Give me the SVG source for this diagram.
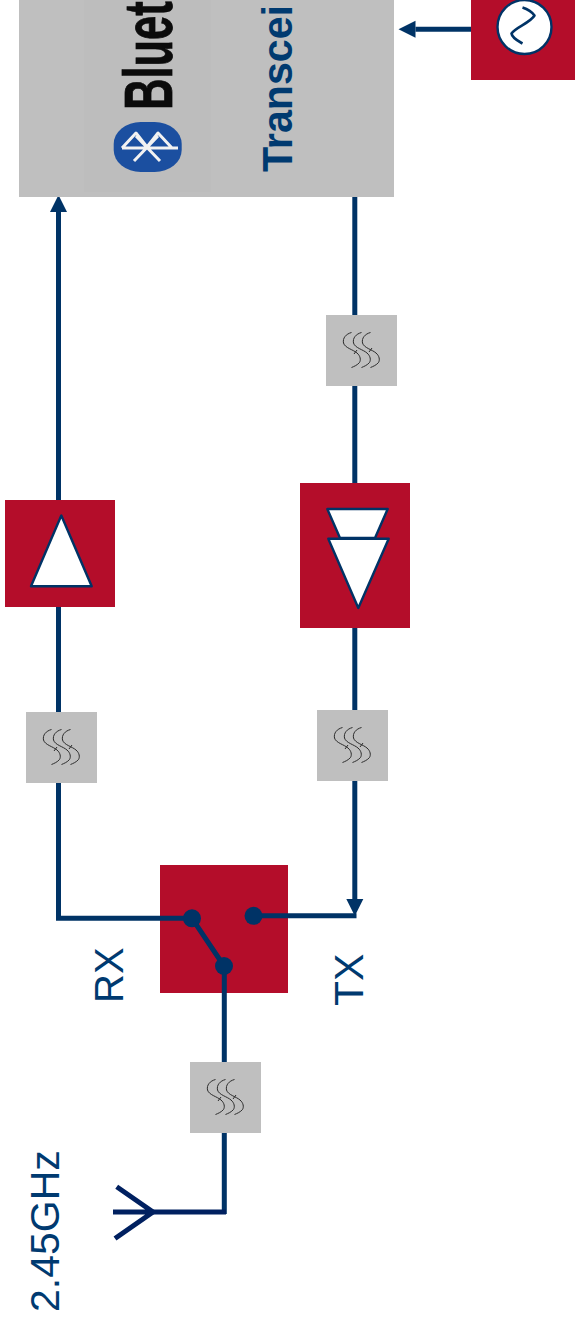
<svg xmlns="http://www.w3.org/2000/svg" width="575" height="1322" viewBox="0 0 575 1322">
<style>
.red{fill:#b40d2a}
.gray{fill:#bfbfbf}
.wire{fill:none;stroke:#003366;stroke-width:5}
.ant{fill:none;stroke:#002060;stroke-width:5}
.shape{fill:#fff;stroke:#003366;stroke-width:2.4;stroke-linejoin:round}
.dot{fill:#003366}
.wave{fill:none;stroke:#2b2b2b;stroke-width:1}
.lbl{font-family:"Liberation Sans",Arial,sans-serif;font-size:41px;fill:#003a70}
</style>
<defs>
<marker id="ah" markerUnits="userSpaceOnUse" markerWidth="18" markerHeight="18" refX="0" refY="9" orient="auto"><path d="M0 0.500L17 9L0 17.500Z" fill="#003366"/></marker>
<g id="filter">
<rect class="gray" width="71" height="71"/>
<g class="wave">
<path d="M25.500 17.500C20 19 16.500 23 17.500 28C19 33 27 34.500 31 38C34.500 41 35 45 33.500 47.500C31.500 50 28 51.500 25.500 52.500"/>
<path d="M35.500 17.500C30 19 26.500 23 27.500 28C29 33 37 34.500 41 38C44.500 41 45 45 43.500 47.500C41.500 50 38 51.500 35.500 52.500"/>
<path d="M44.500 17.500C39 19 35.500 23 36.500 28C38 33 46 34.500 50 38C53.500 41 54 45 52.500 47.500C50.500 50 47 51.500 44.500 52.500"/>
<path d="M28 39L31 35M43 37L46 33"/>
</g>
</g>
</defs>

<g id="connectors">
<path class="wire" d="M58.500 712V212" marker-end="url(#ah)"/>
<path class="wire" d="M58.500 783V918.300H192"/>
<path class="wire" d="M354.800 197V483M354.800 628V710"/>
<path class="wire" d="M354.800 781V899" marker-end="url(#ah)"/>
<path class="wire" d="M253 915.800H356.500"/>
<path class="wire" d="M192 918.300L224 966"/>
<path class="wire" d="M224.300 966V1062M224.300 1133V1214"/>
<path class="wire" d="M471 29.300H415.500" marker-end="url(#ah)"/>
<path class="ant" d="M226 1212H153"/>
</g>

<g id="transceiver">
<rect class="gray" x="19" y="-5" width="375" height="202"/>
<rect x="84" y="-5" width="127" height="197" fill="#bdbdbd"/>
<rect x="113.700" y="122" width="68" height="50" rx="27" ry="22" fill="#1b4fa0"/>
<path d="M122 148H178M122 148L136 133L147 147L158 133L172 148M134 161L158 136M160 161L136 136" fill="none" stroke="#f2f2f2" stroke-width="3" stroke-linejoin="round"/>
<text transform="translate(172 110) rotate(-90) scale(.64 1)" font-family="Liberation Sans,Arial,sans-serif" font-weight="700" font-size="68" fill="#0b0b0b" stroke="#0b0b0b" stroke-width=".8">Bluet</text>
<text transform="translate(292 172) rotate(-90) scale(.98 1)" font-family="Liberation Sans,Arial,sans-serif" font-weight="700" font-size="42" fill="#003a70">Transcei</text>
</g>

<g id="oscillator">
<rect class="red" x="471" y="-5" width="104" height="85"/>
<circle class="shape" cx="524.500" cy="27" r="27"/>
<path d="M522.500 7.500C527 9 532 12 534.500 15.500C530 23 516 27 511.500 33.500C512 38 518 41 522.500 43.500" fill="none" stroke="#003366" stroke-width="2.600" stroke-linejoin="round"/>
</g>

<g id="filter-tx2"><use href="#filter" x="326" y="315"/></g>

<g id="lna">
<rect class="red" x="5" y="500" width="110" height="107"/>
<path class="shape" d="M61.300 515.500L31 586.300H91.700Z"/>
</g>

<g id="pa">
<rect class="red" x="300" y="483" width="110" height="145"/>
<path class="shape" d="M327.300 509H387.700L375 538H340Z"/>
<path class="shape" d="M328.300 538.700H388.700L358.300 608Z"/>
</g>

<g id="filter-rx"><use href="#filter" x="26" y="712"/></g>
<g id="filter-tx1"><use href="#filter" x="317" y="710"/></g>

<g id="switch">
<rect class="red" x="160" y="865" width="128" height="128"/>
<path class="wire" d="M160 918.300H192M288 915.800H253M192 918.300L224 966M224.300 966V993"/>
<circle class="dot" cx="192" cy="918.300" r="9"/>
<circle class="dot" cx="253.500" cy="915.800" r="9"/>
<circle class="dot" cx="224" cy="966" r="9"/>
</g>

<g id="filter-ant"><use href="#filter" x="190" y="1062"/></g>

<g id="antenna">
<path class="ant" d="M113 1212H153M116.700 1186.700L153 1212L115 1238.500"/>
</g>

<g id="labels">
<text class="lbl" style="font-size:40px" transform="translate(123 1003) rotate(-90)">RX</text>
<text class="lbl" transform="translate(362.500 1006) rotate(-90)">TX</text>
<text class="lbl" transform="translate(59 1312) rotate(-90)">2.45GHz</text>
</g>
</svg>
